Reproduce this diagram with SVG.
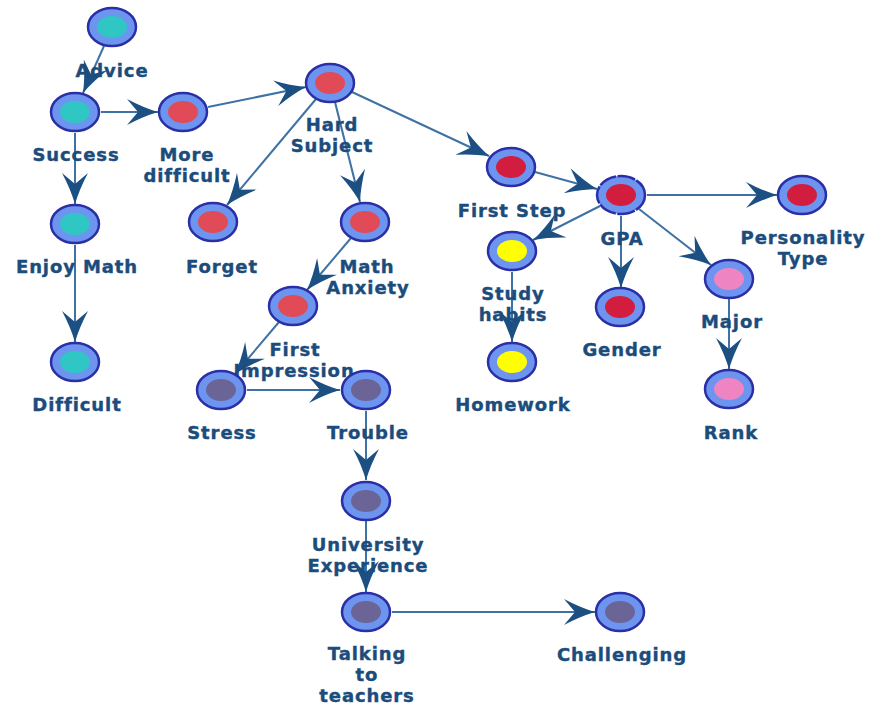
<svg xmlns="http://www.w3.org/2000/svg" width="870" height="706" viewBox="0 0 870 706">
<style>
.o{fill:#6d95f0;stroke:#2b2fa6;stroke-width:2.5}
.teal{fill:#2fc6c4}.red{fill:#e04b57}.crim{fill:#d31d3f}.yel{fill:#ffff00}.pink{fill:#ee84c2}.slate{fill:#6a6596}
text{font-family:"DejaVu Sans","Liberation Sans",sans-serif;font-weight:bold;font-size:18px;letter-spacing:0.9px;fill:#1b4c7c;stroke:#1b4c7c;stroke-width:0.4px;text-anchor:middle}
.e line{stroke:#3f72a4;stroke-width:2;marker-end:url(#ah)}
</style>
<defs>
<marker id="ah" markerUnits="userSpaceOnUse" markerWidth="32" markerHeight="26" viewBox="0 0 32 26" refX="32" refY="13" orient="auto">
<path d="M32,13 Q17,8.5 1,0 L12,13 L1,26 Q17,17.5 32,13 Z" fill="#1c4f82"/>
</marker>
</defs>
<rect width="870" height="706" fill="#ffffff"/>
<g id="connectors" class="e">
<line x1="104" y1="46" x2="83" y2="93"/>
<line x1="101" y1="112" x2="158" y2="112"/>
<line x1="75" y1="133" x2="75" y2="204"/>
<line x1="208" y1="107" x2="306" y2="87"/>
<line x1="316" y1="99" x2="227" y2="205"/>
<line x1="335" y1="102" x2="360" y2="202"/>
<line x1="352" y1="92" x2="489" y2="156"/>
<line x1="535" y1="172" x2="597" y2="189"/>
<line x1="647" y1="195" x2="777" y2="195"/>
<line x1="600" y1="206" x2="533" y2="240"/>
<line x1="621" y1="216" x2="621" y2="288"/>
<line x1="639" y1="209" x2="711" y2="265"/>
<line x1="729" y1="299" x2="729" y2="369"/>
<line x1="512" y1="272" x2="512" y2="342"/>
<line x1="75" y1="245" x2="75" y2="342"/>
<line x1="351" y1="238" x2="307" y2="290"/>
<line x1="279" y1="322" x2="235" y2="374"/>
<line x1="247" y1="390" x2="340" y2="390"/>
<line x1="366" y1="411" x2="366" y2="480"/>
<line x1="366" y1="521" x2="366" y2="592"/>
<line x1="392" y1="612" x2="595" y2="612"/>
</g>
<g id="advice"><ellipse class="o" cx="112" cy="27" rx="24" ry="19"/><ellipse class="teal" cx="112" cy="27" rx="15" ry="11"/><text x="112" y="77">Advice</text></g>
<g id="success"><ellipse class="o" cx="75" cy="112" rx="24" ry="19"/><ellipse class="teal" cx="75" cy="112" rx="15" ry="11"/><text x="76" y="161">Success</text></g>
<g id="more-difficult"><ellipse class="o" cx="183" cy="112" rx="24" ry="19"/><ellipse class="red" cx="183" cy="112" rx="15" ry="11"/><text x="187" y="161">More</text><text x="187" y="182">difficult</text></g>
<g id="hard-subject"><ellipse class="o" cx="330" cy="83" rx="24" ry="19"/><ellipse class="red" cx="330" cy="83" rx="15" ry="11"/><text x="332" y="131">Hard</text><text x="332" y="152">Subject</text></g>
<g id="enjoy-math"><ellipse class="o" cx="75" cy="224" rx="24" ry="19"/><ellipse class="teal" cx="75" cy="224" rx="15" ry="11"/><text x="77" y="273">Enjoy Math</text></g>
<g id="difficult"><ellipse class="o" cx="75" cy="362" rx="24" ry="19"/><ellipse class="teal" cx="75" cy="362" rx="15" ry="11"/><text x="77" y="411">Difficult</text></g>
<g id="forget"><ellipse class="o" cx="213" cy="222" rx="24" ry="19"/><ellipse class="red" cx="213" cy="222" rx="15" ry="11"/><text x="222" y="273">Forget</text></g>
<g id="math-anxiety"><ellipse class="o" cx="365" cy="222" rx="24" ry="19"/><ellipse class="red" cx="365" cy="222" rx="15" ry="11"/><text x="367" y="273">Math</text><text x="368" y="294">Anxiety</text></g>
<g id="first-impression"><ellipse class="o" cx="293" cy="306" rx="24" ry="19"/><ellipse class="red" cx="293" cy="306" rx="15" ry="11"/><text x="295" y="356">First</text><text x="294" y="377">Impression</text></g>
<g id="stress"><ellipse class="o" cx="221" cy="390" rx="24" ry="19"/><ellipse class="slate" cx="221" cy="390" rx="15" ry="11"/><text x="222" y="439">Stress</text></g>
<g id="trouble"><ellipse class="o" cx="366" cy="390" rx="24" ry="19"/><ellipse class="slate" cx="366" cy="390" rx="15" ry="11"/><text x="368" y="439">Trouble</text></g>
<g id="university-experience"><ellipse class="o" cx="366" cy="501" rx="24" ry="19"/><ellipse class="slate" cx="366" cy="501" rx="15" ry="11"/><text x="368" y="551">University</text><text x="368" y="572">Experience</text></g>
<g id="talking-to-teachers"><ellipse class="o" cx="366" cy="612" rx="24" ry="19"/><ellipse class="slate" cx="366" cy="612" rx="15" ry="11"/><text x="367" y="660">Talking</text><text x="367" y="681">to</text><text x="367" y="702">teachers</text></g>
<g id="challenging"><ellipse class="o" cx="620" cy="612" rx="24" ry="19"/><ellipse class="slate" cx="620" cy="612" rx="15" ry="11"/><text x="622" y="661">Challenging</text></g>
<g id="first-step"><ellipse class="o" cx="511" cy="167" rx="24" ry="19"/><ellipse class="crim" cx="511" cy="167" rx="15" ry="11"/><text x="512" y="217">First Step</text></g>
<g id="gpa"><ellipse class="o" cx="621" cy="195" rx="24" ry="19" stroke-dasharray="18 1.5"/><ellipse class="crim" cx="621" cy="195" rx="15" ry="11"/><text x="622" y="245">GPA</text></g>
<g id="personality-type"><ellipse class="o" cx="802" cy="195" rx="24" ry="19"/><ellipse class="crim" cx="802" cy="195" rx="15" ry="11"/><text x="803" y="244">Personality</text><text x="803" y="265">Type</text></g>
<g id="gender"><ellipse class="o" cx="620" cy="307" rx="24" ry="19"/><ellipse class="crim" cx="620" cy="307" rx="15" ry="11"/><text x="622" y="356">Gender</text></g>
<g id="major"><ellipse class="o" cx="729" cy="279" rx="24" ry="19"/><ellipse class="pink" cx="729" cy="279" rx="15" ry="11"/><text x="732" y="328">Major</text></g>
<g id="rank"><ellipse class="o" cx="729" cy="389" rx="24" ry="19"/><ellipse class="pink" cx="729" cy="389" rx="15" ry="11"/><text x="731" y="439">Rank</text></g>
<g id="study-habits"><ellipse class="o" cx="512" cy="251" rx="24" ry="19"/><ellipse class="yel" cx="512" cy="251" rx="15" ry="11"/><text x="513" y="300">Study</text><text x="513" y="321">habits</text></g>
<g id="homework"><ellipse class="o" cx="512" cy="362" rx="24" ry="19"/><ellipse class="yel" cx="512" cy="362" rx="15" ry="11"/><text x="513" y="411">Homework</text></g>
</svg>
